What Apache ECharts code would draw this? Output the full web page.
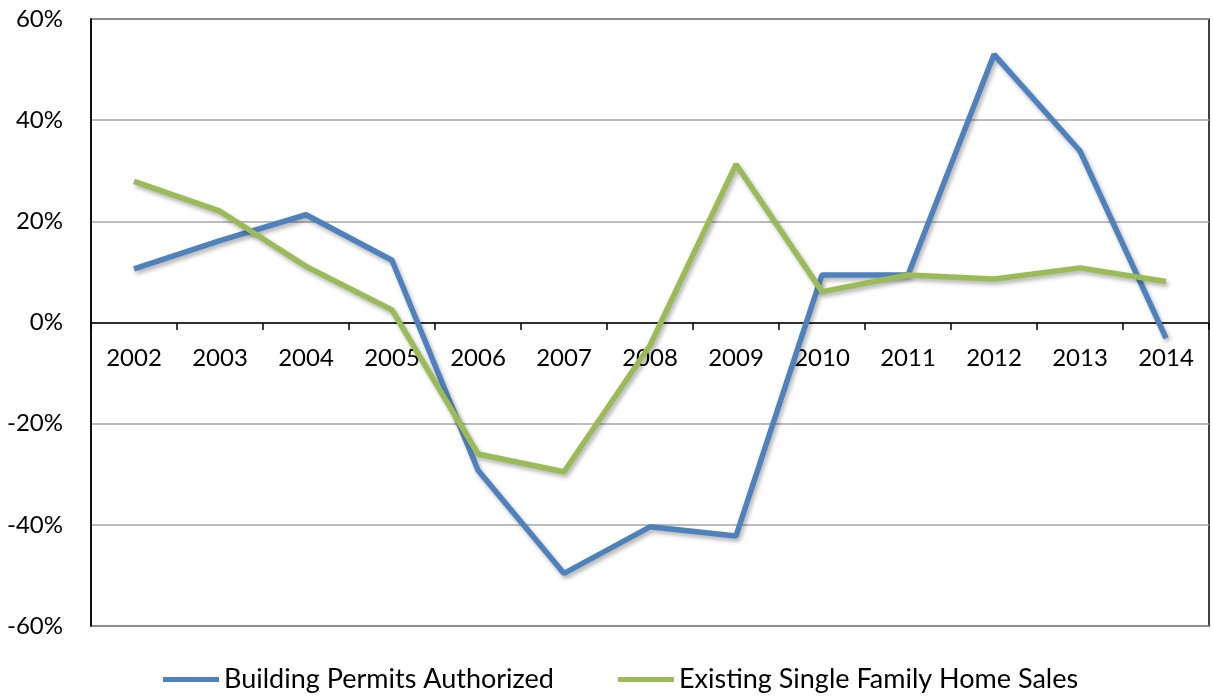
<!DOCTYPE html>
<html style="height: 100%">
<head>
    <meta charset="utf-8">
</head>
<body style="height: 100%; margin: 0; background: #fff">
<div id="container" style="width: 1213px; height: 698px"></div>
<script src="https://cdn.jsdelivr.net/npm/echarts@6/dist/echarts.min.js"></script>
<script type="text/javascript">
    var years = ['2002', '2003', '2004', '2005', '2006', '2007', '2008', '2009', '2010', '2011', '2012', '2013', '2014'];
    // annual % change
    var permits = [10.6, 16.2, 21.3, 12.3, -29.2, -49.6, -40.4, -42.2, 9.4, 9.4, 53.0, 33.9, -3.1];
    var homeSales = [27.9, 22.0, 11.1, 2.5, -26.0, -29.5, -4.5, 31.3, 6.1, 9.4, 8.6, 10.8, 8.1];

    var font = 'Lato, "Open Sans", sans-serif';
    var dom = document.getElementById("container");
    var myChart = echarts.init(dom);

    function lineSeries(name, data, color) {
        return {
            name: name,
            type: 'line',
            data: data,
            symbol: 'none',
            lineStyle: {
                color: color,
                width: 5.5,
                shadowColor: 'rgba(0,0,0,0.3)',
                shadowBlur: 4,
                shadowOffsetX: 2,
                shadowOffsetY: 3
            },
            itemStyle: {color: color}
        };
    }

    var option = {
        animation: false,
        grid: {
            left: 91, right: 4, top: 19, bottom: 72,
            show: true, borderColor: '#000', borderWidth: 1.5
        },
        legend: {
            left: 158,
            top: 661,
            itemGap: 64,
            itemWidth: 56,
            itemHeight: 5,
            icon: 'rect',
            textStyle: {fontFamily: font, fontSize: 27, color: '#000'},
            data: ['Building Permits Authorized', 'Existing Single Family Home Sales']
        },
        xAxis: {
            type: 'category',
            data: years,
            boundaryGap: true,
            // axis drawn at the 0% line, labels directly under it
            offset: -303,
            axisLine: {onZero: false, lineStyle: {color: '#000', width: 1.5}},
            axisTick: {show: true, length: 7, lineStyle: {color: '#000', width: 1.5}},
            axisLabel: {fontFamily: font, fontSize: 24, color: '#000', margin: 23, interval: 0}
        },
        yAxis: {
            type: 'value',
            min: -60,
            max: 60,
            interval: 20,
            axisLine: {show: true, lineStyle: {color: '#000', width: 1.5}},
            axisTick: {show: false},
            splitLine: {lineStyle: {color: '#a6a6a6', width: 1.5}},
            axisLabel: {fontFamily: font, fontSize: 24, color: '#000', margin: 28, formatter: '{value}%'}
        },
        series: [
            lineSeries('Building Permits Authorized', permits, '#4F81BD'),
            lineSeries('Existing Single Family Home Sales', homeSales, '#9BBB59')
        ]
    };
    myChart.setOption(option);
</script>
</body>
</html>
